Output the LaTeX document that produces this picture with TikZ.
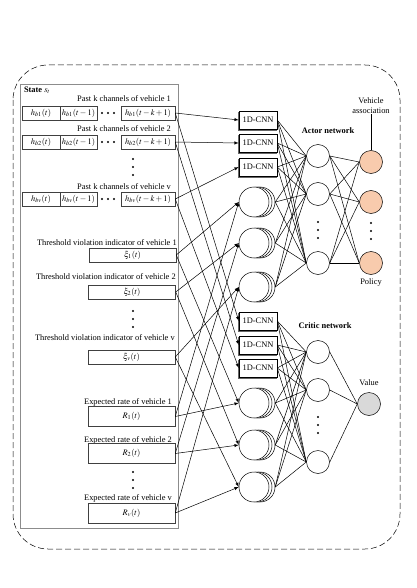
\documentclass[tikz,border=0pt]{standalone}
\usepackage{mathptmx}
\usepackage{fontspec}
\setmainfont{Liberation Serif}
\usepackage{tikz}
\usetikzlibrary{arrows,calc,shadows}
\definecolor{peach}{HTML}{F8CBAD}
\definecolor{valgray}{HTML}{D9D9D9}

\begin{document}
\begin{tikzpicture}[x=1pt,y=-1pt,>=latex,line width=0.5pt,
  font=\fontsize{8.4}{10}\selectfont,
  cellbox/.style={draw=black!75,inner sep=0pt,minimum height=14pt},
  ratebox/.style={cellbox,minimum height=20pt,minimum width=87pt},
  cnnbox/.style={draw,fill=white,inner sep=0pt,minimum width=38pt,minimum height=18pt,
    copy shadow={shadow xshift=-1.2pt,shadow yshift=-1.2pt,draw=black!60,line width=0.5pt}},
  stack/.style={circle,draw,fill=white,inner sep=0pt,minimum size=30pt,
    double copy shadow={shadow xshift=3pt,shadow yshift=0pt,draw,line width=0.5pt}},
  neuron/.style={circle,draw,fill=white,inner sep=0pt,minimum size=23pt},
  lbl/.style={inner sep=0pt}]
\useasboundingbox (0,0) rectangle (416,588);

% outer frame and state box
\draw[dash pattern=on 6pt off 3pt,rounded corners=35pt] (13,65) rectangle (400,549);
\node[draw=black!45,minimum width=158pt,minimum height=444pt,inner sep=0pt] (state) at (99,306) {};
\node[lbl,anchor=north west] (statelbl) at ($(state.north west)+(4,3)$) {\textbf{State} $s_t$};

% past channels
\node[lbl] (plbl1) at (124,99) {Past k channels of vehicle 1};
\node[cellbox,minimum width=38pt] (h11) at (41,113) {$h_{b1}(t)$};
\node[cellbox,minimum width=37pt] (h12) at (78.5,113) {$h_{b1}(t-1)$};
\node[cellbox,minimum width=54pt] (h13) at (148,113) {$h_{b1}(t-k+1)$};
\node[lbl] (plbl2) at (124,129) {Past k channels of vehicle 2};
\node[cellbox,minimum width=38pt] (h21) at (41,142) {$h_{b2}(t)$};
\node[cellbox,minimum width=37pt] (h22) at (78.5,142) {$h_{b2}(t-1)$};
\node[cellbox,minimum width=54pt] (h23) at (148,142) {$h_{b2}(t-k+1)$};
\node[lbl] (plbl3) at (124,187) {Past k channels of vehicle v};
\node[cellbox,minimum width=38pt] (h31) at (41,199) {$h_{bv}(t)$};
\node[cellbox,minimum width=37pt] (h32) at (78.5,199) {$h_{bv}(t-1)$};
\node[cellbox,minimum width=54pt] (h33) at (148,199) {$h_{bv}(t-k+1)$};
\foreach \r in {113,142,199}
  \foreach \x in {102,108,114}
    \fill (\x,\r) circle[radius=1.2pt];

% threshold violation indicators
\node[lbl,anchor=east] (tlbl1) at (177,243) {Threshold violation indicator of vehicle 1};
\node[cellbox,minimum width=87pt] (xi1) at (132.5,255) {$\xi_1(t)$};
\node[lbl,anchor=east] (tlbl2) at (176,277) {Threshold violation indicator of vehicle 2};
\node[cellbox,minimum width=87pt] (xi2) at (132,292) {$\xi_2(t)$};
\node[lbl,anchor=east] (tlbl3) at (175,338) {Threshold violation indicator of vehicle v};
\node[cellbox,minimum width=87pt] (xi3) at (131.5,357) {$\xi_v(t)$};

% expected rates
\node[lbl] (rlbl1) at (128,402) {Expected rate of vehicle 1};
\node[ratebox] (R1) at (131.5,416.5) {$R_1(t)$};
\node[lbl] (rlbl2) at (128,440) {Expected rate of vehicle 2};
\node[ratebox] (R2) at (131.5,453.5) {$R_2(t)$};
\node[lbl] (rlbl3) at (128,498) {Expected rate of vehicle v};
\node[ratebox] (R3) at (131.5,513) {$R_v(t)$};

% vertical dots
\foreach \x/\y in {133/159,318/222,371/223,133/311,133/472,318/417}
  \foreach \d in {0,8,16}
    \fill (\x,\y+\d) circle[radius=1.2pt];

% actor network
\node[cnnbox] (acnn1) at (258,120) {1D-CNN};
\node[cnnbox] (acnn2) at (258,143) {1D-CNN};
\node[cnnbox] (acnn3) at (258,167) {1D-CNN};
\node[stack] (acirc1) at (254,202) {};
\node[stack] (acirc2) at (254,243) {};
\node[stack] (acirc3) at (254,287) {};
\node[neuron] (ahid1) at (318,156) {};
\node[neuron] (ahid2) at (318,194) {};
\node[neuron] (ahid3) at (318,263) {};
\node[neuron,fill=peach] (aout1) at (371,162) {};
\node[neuron,fill=peach] (aout2) at (371,202) {};
\node[neuron,fill=peach] (aout3) at (371,263) {};
\node[lbl,font=\fontsize{8.4}{10}\selectfont\bfseries] (actorlbl) at (328,131) {Actor network};
\node[lbl,align=center] (assoc) at (371,106) {Vehicle\\association};
\node[lbl] (policy) at (371,282) {Policy};
\draw (assoc) -- (aout1);

% critic network
\node[cnnbox] (ccnn1) at (258,321) {1D-CNN};
\node[cnnbox] (ccnn2) at (258,345) {1D-CNN};
\node[cnnbox] (ccnn3) at (258,368) {1D-CNN};
\node[stack] (ccirc1) at (254,403) {};
\node[stack] (ccirc2) at (254,445) {};
\node[stack] (ccirc3) at (254,487) {};
\node[neuron] (chid1) at (318,352) {};
\node[neuron] (chid2) at (318,390) {};
\node[neuron] (chid3) at (318,462) {};
\node[neuron,fill=valgray] (val) at (369,404) {};
\node[lbl,font=\fontsize{8.4}{10}\selectfont\bfseries] (criticlbl) at (325,326) {Critic network};
\node[lbl] (vallbl) at (369,383) {Value};

% state to inputs
\foreach \i in {1,2,3} {
  \draw[->] (h\i3.east) -- (acnn\i.west);
  \draw[->] (h\i3.east) -- (ccnn\i.west);
  \draw[->] (xi\i.east) -- (acirc\i.west);
  \draw[->] (xi\i.east) -- (ccirc\i.west);
  \draw[->] (R\i.east) -- (acirc\i.west);
  \draw[->] (R\i.east) -- (ccirc\i.west);
}

% fully connected layers
\foreach \n in {a,c} {
  \foreach \i in {1,2,3} {
    \coordinate (\n in\i) at (\n cnn\i.east);
    \coordinate (\n in\i b) at ($(\n circ\i.east)+(6,0)$);
  }
  \foreach \i in {1,2,3} \foreach \j in {1,2,3} {
    \draw (\n in\i) -- (\n hid\j.west);
    \draw (\n in\i b) -- (\n hid\j.west);
  }
}
\foreach \i in {1,2,3} {
  \foreach \j in {1,2,3} \draw (ahid\i.east) -- (aout\j.west);
  \draw (chid\i.east) -- (val.west);
}
\end{tikzpicture}
\end{document}
